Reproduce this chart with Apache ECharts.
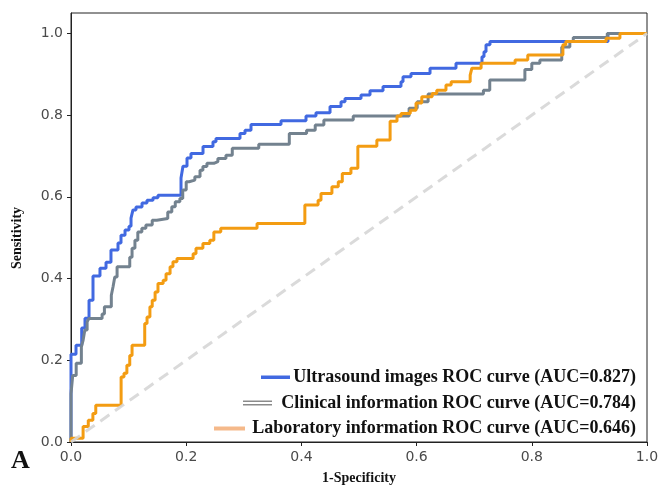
<!DOCTYPE html>
<html>
<head>
<meta charset="utf-8">
<script src="https://cdn.jsdelivr.net/npm/echarts@6/dist/echarts.min.js"></script>
<style>html,body{margin:0;padding:0;background:#fff;}#c{width:658px;height:486px;}</style>
</head>
<body>
<div id="c"></div>
<script>
// ROC points (right end of each horizontal run): fpr, tpr
const usFpr = [0,0.0087,0.0186,0.0243,0.0313,0.0382,0.0503,0.0608,0.0694,0.0816,0.0868,0.0938,0.1007,0.1042,0.1076,0.1128,0.1233,0.1319,0.1424,0.1510,0.1910,0.1944,0.2014,0.2083,0.2292,0.2465,0.2517,0.2934,0.3021,0.3125,0.3646,0.4080,0.4253,0.4497,0.4688,0.4757,0.5035,0.5191,0.5417,0.5729,0.5764,0.5903,0.6233,0.6684,0.7135,0.7170,0.7205,0.7274,0.9323,1.0];
const usTpr = [0,0.215,0.237,0.279,0.303,0.347,0.406,0.425,0.440,0.470,0.487,0.506,0.519,0.528,0.548,0.568,0.575,0.585,0.592,0.598,0.604,0.646,0.675,0.695,0.706,0.723,0.735,0.743,0.755,0.763,0.777,0.786,0.798,0.806,0.821,0.833,0.841,0.849,0.860,0.870,0.882,0.894,0.902,0.915,0.927,0.943,0.955,0.972,0.980,1.0];

const clFpr = [0,0.003,0.009,0.018,0.021,0.024,0.028,0.031,0.054,0.058,0.070,0.073,0.076,0.080,0.102,0.106,0.111,0.116,0.123,0.130,0.141,0.149,0.168,0.175,0.181,0.189,0.194,0.200,0.205,0.215,0.224,0.229,0.236,0.248,0.255,0.269,0.280,0.326,0.379,0.409,0.424,0.439,0.490,0.587,0.601,0.620,0.716,0.727,0.788,0.800,0.814,0.852,0.866,0.872,0.931,1.0];
const clTpr = [0,0.118,0.163,0.193,0.233,0.249,0.274,0.294,0.302,0.313,0.331,0.359,0.380,0.404,0.429,0.452,0.474,0.494,0.514,0.523,0.531,0.543,0.547,0.563,0.576,0.588,0.596,0.617,0.637,0.641,0.649,0.665,0.674,0.682,0.686,0.694,0.702,0.719,0.729,0.755,0.763,0.776,0.788,0.798,0.817,0.833,0.852,0.861,0.886,0.912,0.927,0.935,0.967,0.980,0.990,1.0];

const labFpr = [0,0.021,0.030,0.038,0.043,0.087,0.092,0.097,0.102,0.106,0.128,0.132,0.137,0.141,0.146,0.151,0.160,0.165,0.172,0.177,0.184,0.212,0.217,0.229,0.241,0.248,0.260,0.323,0.406,0.429,0.434,0.453,0.464,0.471,0.486,0.498,0.531,0.554,0.566,0.573,0.589,0.599,0.609,0.627,0.635,0.651,0.660,0.693,0.696,0.712,0.771,0.793,0.854,0.859,0.929,0.953,1.0];
const labTpr = [0,0.009,0.038,0.053,0.070,0.090,0.159,0.168,0.188,0.212,0.237,0.290,0.306,0.331,0.347,0.367,0.388,0.396,0.412,0.429,0.441,0.449,0.461,0.474,0.486,0.494,0.514,0.523,0.535,0.580,0.592,0.608,0.625,0.637,0.657,0.670,0.724,0.739,0.785,0.798,0.804,0.812,0.830,0.845,0.853,0.861,0.874,0.882,0.898,0.915,0.927,0.935,0.947,0.972,0.980,0.988,1.0];

const chanceX = [0,1];
const chanceY = [0,1];

const tickValues = [0,0.2,0.4,0.6,0.8,1.0];
const legendLabels = [
  'Ultrasound images ROC curve (AUC=0.827)',
  'Clinical information ROC curve (AUC=0.784)',
  'Laboratory information ROC curve (AUC=0.646)'
];
const xName = '1-Specificity';
const yName = 'Sensitivity';
const panelLetter = 'A';

const zip = (a, b) => a.map((v, i) => [v, b[i]]);

const chart = echarts.init(document.getElementById('c'));
const serif = '"Liberation Serif","Times New Roman",serif';
const tickFont = '"DejaVu Sans",sans-serif';

chart.setOption({
  animation: false,
  backgroundColor: '#fff',
  grid: { left: 71, right: 11, top: 13, bottom: 44, show: true, borderColor: '#222', borderWidth: 1,
          containLabel: false, outerBoundsMode: 'none' },
  xAxis: {
    type: 'value', min: 0, max: 1, interval: 0.2,
    name: xName, nameLocation: 'middle', nameGap: 29,
    nameTextStyle: { fontFamily: serif, fontWeight: 'bold', fontSize: 14, color: '#111' },
    axisLine: { lineStyle: { color: '#222', width: 1 } },
    axisTick: { show: true, length: 4, lineStyle: { color: '#222' }, customValues: tickValues },
    axisLabel: { fontFamily: tickFont, fontSize: 14, color: '#4a4a4a', margin: 8, customValues: tickValues, formatter: v => v.toFixed(1) },
    splitLine: { show: false }
  },
  yAxis: {
    type: 'value', min: 0, max: 1.05,
    axisLine: { show: true, lineStyle: { color: '#222', width: 1 } },
    axisTick: { show: true, length: 4, lineStyle: { color: '#222' }, customValues: tickValues },
    axisLabel: { fontFamily: tickFont, fontSize: 14, color: '#4a4a4a', margin: 8, customValues: tickValues, formatter: v => v.toFixed(1) },
    splitLine: { show: false }
  },
  series: [
    { name: legendLabels[0], type: 'line', step: 'start', showSymbol: false, data: zip(usFpr, usTpr),
      lineStyle: { color: '#4169e1', width: 3 }, z: 3 },
    { name: legendLabels[1], type: 'line', step: 'start', showSymbol: false, data: zip(clFpr, clTpr),
      lineStyle: { color: '#73828f', width: 3 }, z: 4 },
    { name: legendLabels[2], type: 'line', step: 'start', showSymbol: false, data: zip(labFpr, labTpr),
      lineStyle: { color: '#f39c12', width: 3 }, z: 5 },
    { type: 'line', showSymbol: false, data: zip(chanceX, chanceY), silent: true,
      lineStyle: { color: '#d6d6d6', width: 3, type: [11, 7], opacity: 0.9 }, z: 6 }
  ],
  graphic: [
    { type: 'text', x: 17, y: 238, rotation: Math.PI / 2,
      style: { text: yName, x: 0, y: 0, textAlign: 'center', textVerticalAlign: 'middle', font: 'bold 14px ' + serif, fill: '#111' } },
    { type: 'rect', shape: { x: 261, y: 375.5, width: 29, height: 3.5 }, style: { fill: '#4169e1' } },
    { type: 'text', style: { text: legendLabels[0], x: 636, y: 377, textAlign: 'right', textVerticalAlign: 'middle', font: 'bold 18px ' + serif, fill: '#111' } },
    { type: 'rect', shape: { x: 243, y: 400.5, width: 29, height: 1.5 }, style: { fill: '#8a8a8a' } },
    { type: 'rect', shape: { x: 243, y: 404, width: 29, height: 1.5 }, style: { fill: '#8a8a8a' } },
    { type: 'text', style: { text: legendLabels[1], x: 636, y: 403, textAlign: 'right', textVerticalAlign: 'middle', font: 'bold 18px ' + serif, fill: '#111' } },
    { type: 'rect', shape: { x: 214, y: 426.5, width: 31, height: 4 }, style: { fill: '#f5b98a' } },
    { type: 'text', style: { text: legendLabels[2], x: 636, y: 428, textAlign: 'right', textVerticalAlign: 'middle', font: 'bold 18px ' + serif, fill: '#111' } },
    { type: 'text', style: { text: panelLetter, x: 11, y: 461, textVerticalAlign: 'middle', font: 'bold 26px ' + serif, fill: '#111' } }
  ]
});
</script>
</body>
</html>
